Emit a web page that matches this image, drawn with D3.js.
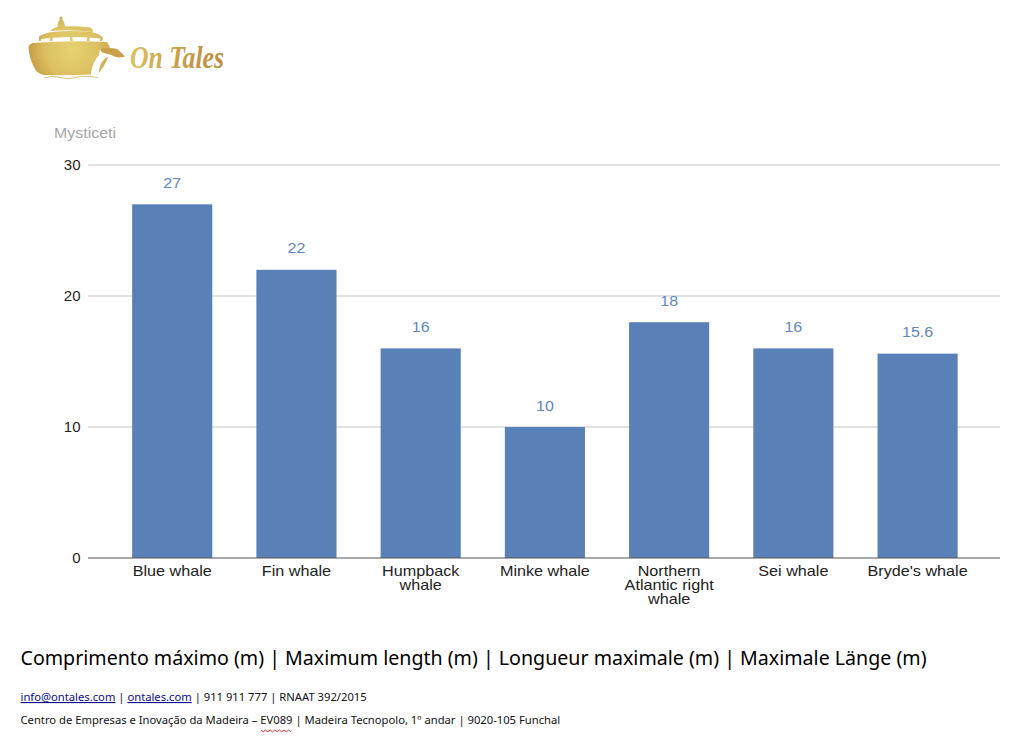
<!DOCTYPE html>
<html>
<head>
<meta charset="utf-8">
<script src="https://cdn.jsdelivr.net/npm/d3@7"></script>
<style>
  html, body { margin: 0; padding: 0; background: #fff; overflow: hidden; }
  svg { display: block; }
  .footer { font-family: "Noto Sans", sans-serif; }
  .chart-text { font-family: "Liberation Sans", Arial, sans-serif; }
</style>
</head>
<body>
<div id="chart"></div>
<script>
// data
const categories = ['Blue whale', 'Fin whale', 'Humpback whale', 'Minke whale', 'Northern Atlantic right whale', 'Sei whale', "Bryde's whale"];
const categoryLines = [['Blue whale'], ['Fin whale'], ['Humpback', 'whale'], ['Minke whale'], ['Northern', 'Atlantic right', 'whale'], ['Sei whale'], ["Bryde's whale"]];
const lengths = [27, 22, 16, 10, 18, 16, 15.6];
const yTicks = [0, 10, 20, 30];

const width = 1024;
const height = 739;

const color = {
  bar: '#5a80b8',
  label: '#5f86c4',
  grid: '#d9d9d9',
  axis: '#555555',
  tick: '#1f1f1f',
  muted: '#a6a6a6'
};

const svg = d3.select('#chart')
  .append('svg')
  .attr('width', width)
  .attr('height', height)
  .attr('viewBox', `0 0 ${width} ${height}`);

// scales
const xScale = d3.scaleBand()
  .domain(categories)
  .range([110.1, 979.7])
  .paddingInner(0.355)
  .paddingOuter(0.1775);

const yScale = d3.scaleLinear()
  .domain([0, 30])
  .range([558, 165]);

// the reference is a slightly stretched screenshot, so labels get widened
const stretch = 1.14;

// gridlines
svg.append('g')
  .selectAll('line')
  .data(yTicks.slice(1))
  .join('line')
  .attr('x1', 88)
  .attr('x2', 1000)
  .attr('y1', d => yScale(d))
  .attr('y2', d => yScale(d))
  .attr('stroke', color.grid)
  .attr('stroke-width', 1.3);

// y tick labels
svg.append('g')
  .attr('class', 'chart-text')
  .selectAll('text')
  .data(yTicks)
  .join('text')
  .attr('x', 80.5)
  .attr('y', d => yScale(d) + 5.2)
  .attr('text-anchor', 'end')
  .attr('font-size', 15)
  .attr('fill', color.tick)
  .text(d => d);

// bars
svg.append('g')
  .selectAll('rect')
  .data(lengths)
  .join('rect')
  .attr('x', (d, i) => xScale(categories[i]))
  .attr('y', d => yScale(d))
  .attr('width', xScale.bandwidth())
  .attr('height', d => yScale(0) - yScale(d))
  .attr('fill', color.bar);

// baseline
svg.append('line')
  .attr('x1', 88)
  .attr('x2', 1000)
  .attr('y1', yScale(0))
  .attr('y2', yScale(0))
  .attr('stroke', color.axis)
  .attr('stroke-width', 1.2);

// value labels
svg.append('g')
  .attr('class', 'chart-text')
  .selectAll('text')
  .data(lengths)
  .join('text')
  .attr('transform', (d, i) => `translate(${xScale(categories[i]) + xScale.bandwidth() / 2}, ${yScale(d) - 16.5}) scale(1.07, 1)`)
  .attr('text-anchor', 'middle')
  .attr('font-size', 15)
  .attr('fill', color.label)
  .text(d => d);

// category labels
svg.append('g')
  .attr('class', 'chart-text')
  .selectAll('g')
  .data(categoryLines)
  .join('g')
  .attr('transform', (lines, i) => `translate(${xScale(categories[i]) + xScale.bandwidth() / 2}, 576) scale(${stretch}, 1)`)
  .each(function (lines) {
    d3.select(this).selectAll('text')
      .data(lines)
      .join('text')
      .attr('y', (d, j) => j * 13.8)
      .attr('font-size', 14.2)
      .attr('fill', '#222222')
      .attr('text-anchor', 'middle')
      .text(d => d);
  });

// chart title
svg.append('text')
  .attr('class', 'chart-text')
  .attr('transform', 'translate(54, 138) scale(1.1, 1)')
  .attr('font-size', 14.5)
  .attr('fill', color.muted)
  .text('Mysticeti');

// logo
const defs = svg.append('defs');
const gold = defs.append('radialGradient')
  .attr('id', 'gold')
  .attr('gradientUnits', 'userSpaceOnUse')
  .attr('cx', 72).attr('cy', 50).attr('r', 48);
gold.append('stop').attr('offset', '0%').attr('stop-color', '#e6d272');
gold.append('stop').attr('offset', '55%').attr('stop-color', '#dcc062');
gold.append('stop').attr('offset', '100%').attr('stop-color', '#c2923e');

const goldText = defs.append('linearGradient')
  .attr('id', 'goldText')
  .attr('gradientUnits', 'userSpaceOnUse')
  .attr('x1', 129).attr('x2', 225).attr('y1', 0).attr('y2', 0);
goldText.append('stop').attr('offset', '0%').attr('stop-color', '#dcc264');
goldText.append('stop').attr('offset', '50%').attr('stop-color', '#c9a049');
goldText.append('stop').attr('offset', '100%').attr('stop-color', '#b98d3f');

const logo = svg.append('g').attr('fill', 'url(#gold)');
// hull
logo.append('path')
  .attr('d', 'M28.5 47 Q29 44 33 43 Q70 40 107 42 Q110 46 110 50 Q108 62 98 74 Q70 76 44 75 Q38 74 35 69 Q29 58 28.5 47 Z');
// lower deck with pillars, white window strip left under it
logo.append('path').attr('d', 'M39 36.5 Q44 33 52 32 Q72 30 92 32 Q100 34 103 38 L102 41 L100 41 L100 38.5 Q70 35.5 41 39 L41 41 L39 41 Z');
logo.append('path').attr('d', 'M50 41 L50 37 L52.5 37 L52.5 41 Z M70 41 L70 36 L72.5 36 L72.5 41 Z M87 41 L87 37 L89.5 37 L89.5 41 Z');
// upper deck
logo.append('path').attr('d', 'M50 31 Q54 27 60 26.5 Q76 25.5 90 27.5 Q93 29 93 32 Q72 29 50 31 Z');
// figure on top
logo.append('path').attr('d', 'M57 29 L58 22.5 Q59 20.5 59.7 20 L59.5 17.5 Q61 15.5 62.5 17.5 L62.3 20 Q64 21 64.5 24 L66 29 Z');
// whale body, white cut into the hull
logo.append('path')
  .attr('fill', '#ffffff')
  .attr('d', 'M91 72 Q93 62 99 55 L100 49 L112 51 L118 55 Q106 55 102 62 Q99 66 99 74 L91 75 Z');
// whale back and tail
logo.append('path')
  .attr('fill', '#c7a049')
  .attr('d', 'M100 49 Q110 47 117 49 Q122 53 125 56.5 Q120 58 116 57 Q110 54 104 53 Q101 52 100 49 Z');
// waves
logo.append('path')
  .attr('fill', 'none')
  .attr('stroke', '#dcc478')
  .attr('stroke-width', 1)
  .attr('d', 'M44 78 Q52 75 60 77.5 T76 77.5 T98 77.5');

svg.append('text')
  .attr('x', 130)
  .attr('y', 68)
  .attr('font-family', '"Liberation Serif", serif')
  .attr('font-style', 'italic')
  .attr('font-weight', 'bold')
  .attr('font-size', 32)
  .attr('textLength', 94)
  .attr('lengthAdjust', 'spacingAndGlyphs')
  .attr('fill', 'url(#goldText)')
  .text('On Tales');

// footer
const footer = svg.append('g').attr('class', 'footer');
footer.append('text')
  .attr('x', 20.5)
  .attr('y', 665)
  .attr('font-size', 19.63)
  .attr('fill', '#000')
  .text('Comprimento máximo (m) | Maximum length (m) | Longueur maximale (m) | Maximale Länge (m)');

const contact = footer.append('text')
  .attr('x', 20.5)
  .attr('y', 701)
  .attr('font-size', 11.23)
  .attr('fill', '#111');
contact.append('tspan').attr('fill', '#0b0b8c').attr('text-decoration', 'underline').text('info@ontales.com');
contact.append('tspan').text(' | ');
contact.append('tspan').attr('fill', '#0b0b8c').attr('text-decoration', 'underline').text('ontales.com');
contact.append('tspan').text(' | 911 911 777 | RNAAT 392/2015');

footer.append('text')
  .attr('x', 20.5)
  .attr('y', 724)
  .attr('font-size', 11.23)
  .attr('fill', '#111')
  .text('Centro de Empresas e Inovação da Madeira – EV089 | Madeira Tecnopolo, 1º andar | 9020-105 Funchal');

// spell-check squiggle under EV089
footer.append('path')
  .attr('fill', 'none')
  .attr('stroke', '#d22')
  .attr('stroke-width', 0.9)
  .attr('d', d3.range(0, 14).map(i => `${i ? 'L' : 'M'}${261 + i * 2.3} ${730 + (i % 2) * 1.8}`).join(' '));
</script>
</body>
</html>
